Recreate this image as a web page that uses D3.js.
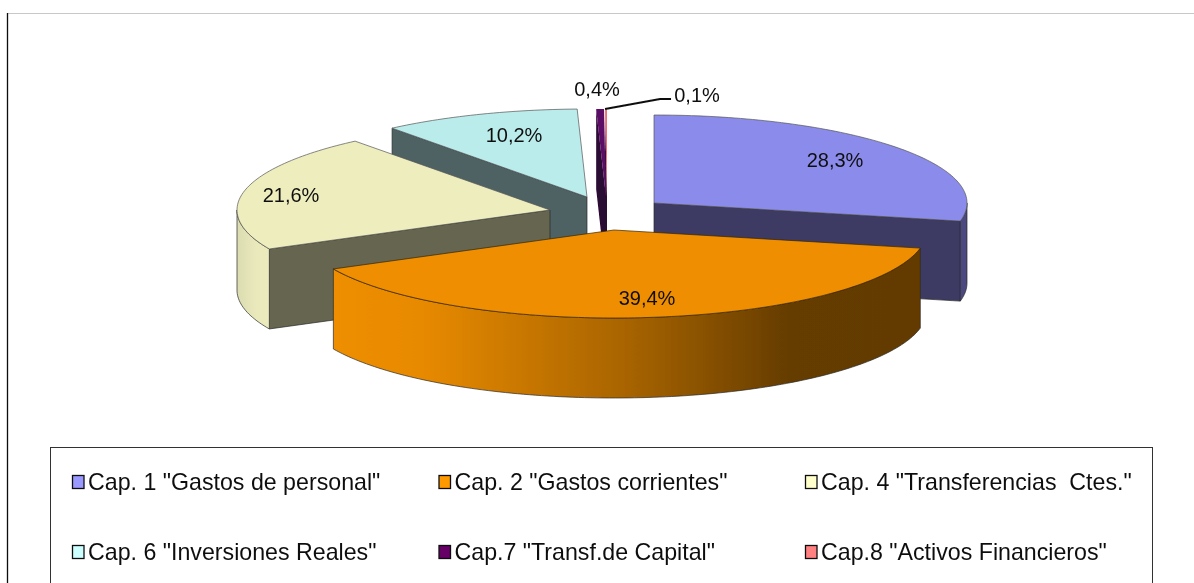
<!DOCTYPE html>
<html><head><meta charset="utf-8">
<script src="https://cdn.jsdelivr.net/npm/d3@7"></script>
<style>html,body{margin:0;padding:0;background:#fff;overflow:hidden}svg{display:block}text{font-family:"Liberation Sans",Arial,sans-serif;fill:#111}</style>
</head><body><svg id="c" width="1194" height="583"></svg>
<script>
const categories = ['Cap. 1 "Gastos de personal"','Cap. 2 "Gastos corrientes"','Cap. 4 "Transferencias  Ctes."','Cap. 6 "Inversiones Reales"','Cap.7 "Transf.de Capital"','Cap.8 "Activos Financieros"'];
const values = [28.3,39.4,21.6,10.2,0.4,0.1];
const valueLabels = ['28,3%','39,4%','21,6%','10,2%','0,4%','0,1%'];
const legendColors = ['#9999ff','#ff9900','#ffffcc','#ccffff','#660066','#ff8080'];
const topColors = ['#8b8bec','#ee8e00','#ededbd','#bbecec','#5c0a66','#ee7070'];
const wallColors = ['#3d3b63','#633b00','#66654f','#4f6264','#2c0733','#2c0733'];
const rimColors = ['#4b4a80','url(#rimOrange)','url(#rimYellow)','#4f6264','#2c0733','#2c0733'];
const centersX = [654,614,550,587,606,607];
const centersY = [203,230,210,197,197,197];
const labelX = [835,647,291,514,597,697];
const labelY = [160,298,195,135,89,95];
const drawOrder = [3,5,4,0,2,1];

const RX=313, RY=88, DEPTH=80;
const sx=d3.scaleLinear().domain([-1,1]).range([-RX,RX]);
const sy=d3.scaleLinear().domain([-1,1]).range([-RY,RY]);
const svg=d3.select('#c');
const defs=svg.append('defs');
defs.append('filter').attr('id','soft').attr('x','-2%').attr('y','-2%').attr('width','104%').attr('height','104%')
  .append('feGaussianBlur').attr('stdDeviation',0.45);
function grad(id,x1,x2,stops){
  const g=defs.append('linearGradient').attr('id',id).attr('gradientUnits','userSpaceOnUse')
    .attr('x1',x1).attr('x2',x2).attr('y1',0).attr('y2',0);
  stops.forEach(s=>g.append('stop').attr('offset',s[0]).attr('stop-color',s[1]));
}
grad('rimOrange',333,920,[[0,'#ee8e00'],[0.15,'#e88a00'],[0.5,'#a86400'],[0.78,'#653c00'],[1,'#633b00']]);
grad('rimYellow',237,270,[[0,'#dcdcb2'],[0.6,'#e9e9bc'],[1,'#ebebbe']]);

const arcs=d3.pie().sort(null).startAngle(0).endAngle(2*Math.PI)(values);
const line=d3.line();
const pt=(i,a,dz=0)=>[centersX[i]+sx(Math.sin(a)), centersY[i]+sy(-Math.cos(a))+dz];
const arcPts=(i,a0,a1,dz=0)=>{const n=Math.max(2,Math.ceil((a1-a0)/0.02));return d3.range(n+1).map(k=>pt(i,a0+(a1-a0)*k/n,dz));};
const root=svg.append('g').attr('filter','url(#soft)');

root.append('line').attr('x1',7).attr('x2',1194).attr('y1',13.5).attr('y2',13.5).attr('stroke','#c8c8c8');
root.append('line').attr('x1',7.5).attr('x2',7.5).attr('y1',13).attr('y2',583).attr('stroke','#111').attr('stroke-width',1.3);

const edge='#2a2a2a';
drawOrder.forEach(i=>{
  const {startAngle:a,endAngle:b}=arcs[i], g=root.append('g');
  const c=[centersX[i],centersY[i]], c2=[c[0],c[1]+DEPTH];
  const sw=i>=4?0:0.7;
  const quad=ang=>g.append('path').attr('d',line([c,pt(i,ang),pt(i,ang,DEPTH),c2])+'Z')
    .attr('fill',wallColors[i]).attr('stroke',i>=4?'none':edge).attr('stroke-width',sw);
  if(Math.sin(a)<-1e-6) quad(a);
  if(Math.sin(b)>1e-6) quad(b);
  const r0=Math.max(a,Math.PI/2), r1=Math.min(b,3*Math.PI/2);
  if(r1>r0){
    g.append('path').attr('d',line([...arcPts(i,r0,r1),...arcPts(i,r0,r1,DEPTH).reverse()])+'Z')
      .attr('fill',rimColors[i]).attr('stroke',edge).attr('stroke-width',sw);
  }
  g.append('path').attr('d',line([c,...arcPts(i,a,b)])+'Z')
    .attr('fill',topColors[i]).attr('stroke',i>=4?'none':(i==1?'#3a2500':'#555'))
    .attr('stroke-width',sw);
});

const anchor=pt(5,arcs[5].startAngle);
root.append('path').attr('d',line([anchor,[anchor[0]+55,anchor[1]-10],[anchor[0]+66,anchor[1]-10]]))
  .attr('fill','none').attr('stroke','#111').attr('stroke-width',2);

root.selectAll('text.val').data(valueLabels).join('text').attr('class','val')
  .attr('x',(d,i)=>labelX[i]).attr('y',(d,i)=>labelY[i]+7)
  .attr('text-anchor','middle').attr('font-size',20).text(d=>d);

// legend
const lg=root.append('g');
lg.append('rect').attr('x',50.5).attr('y',447.5).attr('width',1102).attr('height',160)
  .attr('fill','#fff').attr('stroke','#333').attr('stroke-width',1);
const colX=d3.scaleOrdinal().domain([0,1,2]).range([72,438.5,805]);
const rowY=d3.scaleOrdinal().domain([0,1]).range([482,552]);
const items=lg.selectAll('g.item').data(categories).join('g').attr('class','item')
  .attr('transform',(d,i)=>`translate(${colX(i%3)},${rowY(Math.floor(i/3))})`);
items.append('rect').attr('x',0.5).attr('y',-6.5).attr('width',11.5).attr('height',13)
  .attr('fill',(d,i)=>legendColors[i]).attr('stroke','#111').attr('stroke-width',1.3);
items.append('text').attr('x',16).attr('y',8).attr('font-size',23.2).attr('xml:space','preserve')
  .style('white-space','pre').text(d=>d);
</script></body></html>
